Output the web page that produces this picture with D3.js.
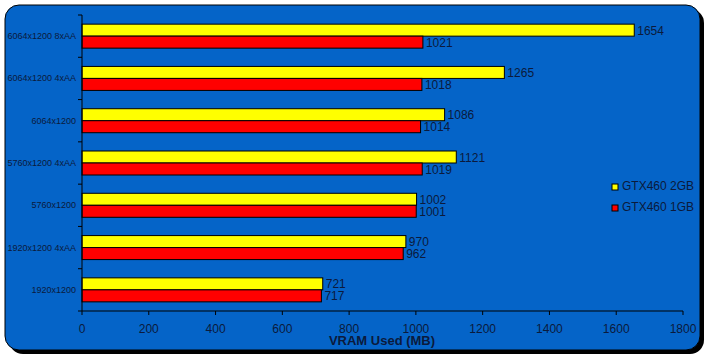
<!DOCTYPE html>
<html><head><meta charset="utf-8">
<script src="https://cdn.jsdelivr.net/npm/d3@7"></script>
<style>body{margin:0;background:#fff}svg{display:block}</style>
</head><body>
<svg id="c" width="708" height="360"></svg>
<script>
const categories = ["6064x1200 8xAA","6064x1200 4xAA","6064x1200","5760x1200 4xAA","5760x1200","1920x1200 4xAA","1920x1200"];
const seriesNames = ["GTX460 2GB","GTX460 1GB"];
const gtx2gb = [1654,1265,1086,1121,1002,970,721];
const gtx1gb = [1021,1018,1014,1019,1001,962,717];
const xTicks = [0,200,400,600,800,1000,1200,1400,1600,1800];
const colors = ["#FFFF00","#FF0000"];

const svg = d3.select("#c");
const txt = "#0b1a3c";
const font = "Arial, 'Liberation Sans', sans-serif";

// frame with shadow
svg.append("rect").attr("x",9).attr("y",9).attr("width",695).attr("height",345).attr("rx",14).attr("fill","#000");
svg.append("rect").attr("x",5).attr("y",5).attr("width",695).attr("height",345).attr("rx",14)
  .attr("fill","#0564C8").attr("stroke","#000").attr("stroke-width",1);

const m = {l:82, r:683, t:15, b:311};
const x = d3.scaleLinear().domain([0,1800]).range([m.l,m.r]);
const y = d3.scaleBand().domain(categories).range([m.t,m.b]);
const bh = 12;

const data = categories.map((c,i)=>({c, v:[gtx2gb[i],gtx1gb[i]]}));

const g = svg.append("g");
data.forEach(d=>{
  const cy = y(d.c) + y.bandwidth()/2;
  d.v.forEach((v,j)=>{
    const top = cy - bh + j*bh;
    g.append("rect").attr("x",x(0)).attr("y",top).attr("width",x(v)-x(0)).attr("height",bh)
      .attr("fill",colors[j]).attr("stroke","#000").attr("stroke-width",1);
    g.append("text").attr("x",x(v)+3).attr("y",top+bh/2+4.5).text(v)
      .attr("font-family",font).attr("font-size",12).attr("fill",txt);
  });
  g.append("text").attr("x",76).attr("y",cy+3).attr("text-anchor","end").text(d.c)
    .attr("font-family",font).attr("font-size",9).attr("fill",txt);
});

// y axis
const ya = svg.append("g");
ya.append("line").attr("x1",m.l).attr("x2",m.l).attr("y1",m.t).attr("y2",m.b).attr("stroke","#000");
for(let i=0;i<=categories.length;i++){
  const yy = m.t + i*y.bandwidth();
  ya.append("line").attr("x1",m.l-4).attr("x2",m.l).attr("y1",yy).attr("y2",yy).attr("stroke","#000");
}
// x axis
const xa = svg.append("g");
xa.append("line").attr("x1",m.l).attr("x2",m.r).attr("y1",m.b).attr("y2",m.b).attr("stroke","#000");
xTicks.forEach(t=>{
  xa.append("line").attr("x1",x(t)).attr("x2",x(t)).attr("y1",m.b).attr("y2",m.b+4).attr("stroke","#000");
  xa.append("text").attr("x",x(t)).attr("y",333).attr("text-anchor","middle").text(t)
    .attr("font-family",font).attr("font-size",12).attr("fill",txt);
});
svg.append("text").attr("x",382).attr("y",345).attr("text-anchor","middle").text("VRAM Used (MB)")
  .attr("font-family",font).attr("font-size",13).attr("font-weight","bold").attr("fill",txt);

// legend
seriesNames.forEach((s,i)=>{
  const ly = 190 + i*21;
  svg.append("rect").attr("x",612).attr("y",ly-6).attr("width",6).attr("height",6)
    .attr("fill",colors[i]).attr("stroke","#000").attr("stroke-width",1);
  svg.append("text").attr("x",622).attr("y",ly).text(s)
    .attr("font-family",font).attr("font-size",12).attr("fill",txt);
});
</script>
</body></html>
